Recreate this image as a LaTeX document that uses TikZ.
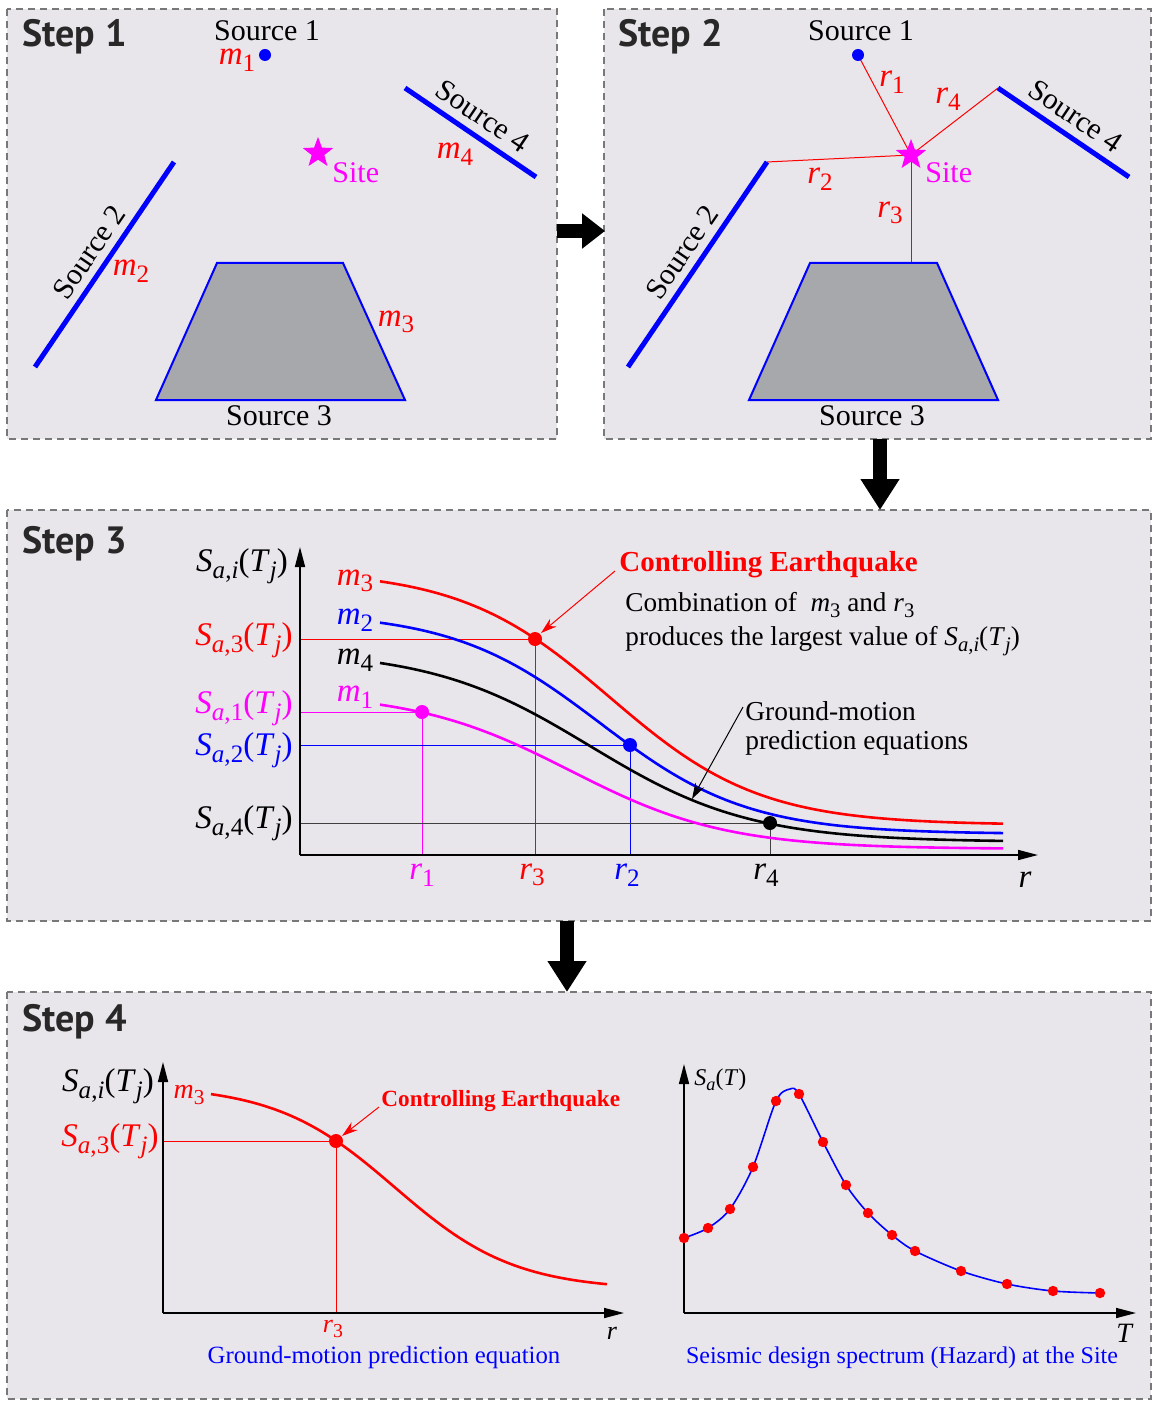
\documentclass[tikz,border=0pt]{standalone}
\usepackage{fontspec}
\setmainfont{Liberation Serif}
\newfontfamily\stepfont{PT Sans}
\usetikzlibrary{shapes.geometric,arrows.meta}
\definecolor{panelbg}{RGB}{232,230,235}
\definecolor{trapfill}{RGB}{167,168,171}
\definecolor{bordergray}{RGB}{120,120,120}
\definecolor{stepgray}{RGB}{40,40,40}
\definecolor{mred}{RGB}{255,0,0}
\definecolor{mblue}{RGB}{0,0,255}
\definecolor{mmag}{RGB}{255,0,255}
\newcommand\myfs[1]{\fontsize{#1}{#1}\selectfont}
\newcommand\mysub[1]{\raisebox{-0.2em}{\scalebox{0.76}{#1}}}
\newcommand\vm[1]{\textit{m}\mysub{#1}}
\newcommand\vr[1]{\textit{r}\mysub{#1}}
\newcommand\vS[1]{\textit{S}\mysub{\textit{a},#1}(\textit{T}\mysub{\textit{j}})}
\begin{document}
\begin{tikzpicture}[x=0.5pt,y=-0.5pt,
  panel/.style={draw=bordergray, fill=panelbg, line width=0.6pt, dash pattern=on 3.5pt off 2.5pt},
  steplabel/.style={font=\stepfont\bfseries\myfs{19}, text=stepgray, anchor=west, inner sep=0},
  txt/.style={font=\myfs{15}, inner sep=0},
  mlab/.style={font=\myfs{16.5}, inner sep=0},
  clab/.style={font=\myfs{16.5}, inner sep=0},
  srcline/.style={mblue, line width=2.5pt},
  trap/.style={draw=mblue, fill=trapfill, line width=1pt},
  sitestar/.style={star, star points=5, star point ratio=2.4, fill=mmag, minimum size=16pt, inner sep=0},
  rightarrow/.style={line width=7pt, -{Triangle[length=11.5pt,width=17pt]}},
  downarrow/.style={line width=7pt, -{Triangle[length=15.5pt,width=18.5pt]}},
  axis/.style={line width=0.8pt, -{Triangle[length=10pt,width=5pt]}},
  gmpe/.style={line width=1.3pt},
  thinl/.style={line width=0.5pt},
  rline/.style={mred, line width=0.5pt},
  leader/.style={line width=0.5pt, -{Stealth[length=8pt,width=5pt]}},
]
\useasboundingbox (0,0) rectangle (1153,1401);

% ---------- panels ----------
\draw[panel] (7,9) rectangle (557,439);
\draw[panel] (604,9) rectangle (1151,439);
\draw[panel] (7,510) rectangle (1151,921);
\draw[panel] (7,992) rectangle (1151,1399);

% ---------- big arrows ----------
\coordinate (a1s) at (557,231); \coordinate (a1e) at (605,231);
\draw[rightarrow] (a1s) -- (a1e);
\coordinate (a2s) at (880,439); \coordinate (a2e) at (880,510);
\draw[downarrow] (a2s) -- (a2e);
\coordinate (a3s) at (567,921); \coordinate (a3e) at (567,992);
\draw[downarrow] (a3s) -- (a3e);

% ---------- Step 1 ----------
\node[steplabel] (st1) at (22,37) {Step 1};
\node[txt] (s1a) at (267,31) {Source 1};
\fill[mblue] (265,55) circle (3pt) coordinate (src1a);
\node[mlab, mred] (m1a) at (237,60) {\vm{1}};
\coordinate (s4a1) at (405,88); \coordinate (s4a2) at (536,177);
\draw[srcline] (s4a1) -- (s4a2);
\node[txt, rotate=-34] (s4la) at (483,116) {Source 4};
\node[mlab, mred] (m4a) at (455,154) {\vm{4}};
\coordinate (s2a1) at (35,367); \coordinate (s2a2) at (174,162);
\draw[srcline] (s2a1) -- (s2a2);
\node[txt, rotate=55.7] (s2la) at (89,252) {Source 2};
\node[mlab, mred] (m2a) at (131,271) {\vm{2}};
\draw[trap] (217,263) -- (343,263) -- (405,400) -- (156,400) -- cycle;
\node[txt] (s3la) at (279,416) {Source 3};
\node[mlab, mred] (m3a) at (396,322) {\vm{3}};
\node[sitestar] (sitea) at (318,153) {};
\node[txt, mmag, anchor=west] (sitela) at (332,173) {Site};

% ---------- Step 2 ----------
\node[steplabel] (st2) at (618,37) {Step 2};
\node[txt] (s1b) at (861,31) {Source 1};
\coordinate (src1b) at (858,55);
\coordinate (s4b1) at (998,88); \coordinate (s4b2) at (1129,177);
\coordinate (s2b1) at (628,367); \coordinate (s2b2) at (767,162);
\coordinate (trb) at (911,263);
\coordinate (siteb) at (911,155);
\draw[rline] (src1b) -- (siteb);
\draw[rline] (s2b2) -- (siteb);
\draw[rline] (s4b1) -- (siteb);
\draw[rline] (trb) -- (siteb);
\fill[mblue] (src1b) circle (3pt);
\draw[srcline] (s4b1) -- (s4b2);
\node[txt, rotate=-34] (s4lb) at (1076,116) {Source 4};
\draw[srcline] (s2b1) -- (s2b2);
\node[txt, rotate=55.7] (s2lb) at (682,252) {Source 2};
\draw[trap] (810,263) -- (937,263) -- (998,400) -- (749,400) -- cycle;
\node[txt] (s3lb) at (872,416) {Source 3};
\node[sitestar] (sitestarb) at (siteb) {};
\node[txt, mmag, anchor=west] (sitelb) at (925,173) {Site};
\node[mlab, mred] (r1b) at (892,82) {\vr{1}};
\node[mlab, mred] (r4b) at (948,99) {\vr{4}};
\node[mlab, mred] (r2b) at (820,179) {\vr{2}};
\node[mlab, mred] (r3b) at (890,213) {\vr{3}};

% ---------- Step 3 ----------
\node[steplabel] (st3) at (22,544) {Step 3};
\coordinate (o3) at (300,855);
\coordinate (y3) at (300,547);
\coordinate (x3) at (1038,855);
% reference lines
\coordinate (d3) at (535,639); \coordinate (d1) at (422,712);
\coordinate (d2) at (630,745); \coordinate (d4) at (770,823);
\draw[thinl, mred] (300,639) -- (d3) -- (535,855);
\draw[thinl, mmag] (300,712) -- (d1) -- (422,855);
\draw[thinl, mblue] (300,745) -- (d2) -- (630,855);
\draw[thinl, black!75] (300,823) -- (d4) -- (770,855);
% curves (logistic fits)
\draw[gmpe, mred] plot[domain=380:1003, samples=120] (\x, {570+255/(1+exp(-(\x-610)/75))});
\draw[gmpe, mblue] plot[domain=380:1003, samples=120] (\x, {612+222/(1+exp(-(\x-600)/73.7))});
\draw[gmpe, black] plot[domain=380:1003, samples=120] (\x, {650+192/(1+exp(-(\x-590)/80))});
\draw[gmpe, mmag] plot[domain=380:1003, samples=120] (\x, {692+157/(1+exp(-(\x-570)/78))});
\draw[axis] (o3) -- (y3);
\draw[axis] (o3) -- (x3);
\fill[mred] (d3) circle (3.5pt);
\fill[mmag] (d1) circle (3.5pt);
\fill[mblue] (d2) circle (3.5pt);
\fill[black] (d4) circle (3.5pt);
% labels
\node[clab] (say3) at (242,566) {\vS{\textit{i}}};
\node[clab, mred] (sa3) at (244,640) {\vS{3}};
\node[clab, mmag] (sa1) at (244,708) {\vS{1}};
\node[clab, mblue] (sa2) at (244,750) {\vS{2}};
\node[clab] (sa4) at (244,823) {\vS{4}};
\node[mlab, mred] (m3c) at (355,581) {\vm{3}};
\node[mlab, mblue] (m2c) at (355,620) {\vm{2}};
\node[mlab] (m4c) at (355,660) {\vm{4}};
\node[mlab, mmag] (m1c) at (355,697) {\vm{1}};
\node[mlab, mmag] (r1c) at (422,875) {\vr{1}};
\node[mlab, mred] (r3c) at (532,875) {\vr{3}};
\node[mlab, mblue] (r2c) at (627,875) {\vr{2}};
\node[mlab] (r4c) at (766,875) {\vr{4}};
\node[mlab] (rc) at (1025,880) {\textit{r}};
\node[font=\bfseries\myfs{14.5}, mred, anchor=west, inner sep=0] (ce3) at (619,565) {Controlling Earthquake};
\coordinate (ce3s) at (615,571);
\draw[leader, mred] (ce3s) -- (541,633);
\node[font=\myfs{13.6}, anchor=west, inner sep=0] (comb) at (625,605) {Combination of~ \vm{3} and \vr{3}};
\node[font=\myfs{13.6}, anchor=west, inner sep=0] (prod) at (625,641) {produces the largest value of \vS{\textit{i}}};
\node[font=\myfs{13.7}, anchor=west, inner sep=0] (gm1) at (745,711) {Ground-motion};
\node[font=\myfs{13.7}, anchor=west, inner sep=0] (gm2) at (745,743) {prediction equations};
\coordinate (gms) at (743,707); \coordinate (gme) at (692,799);
\draw[leader, black] (gms) -- (gme);

% ---------- Step 4 ----------
\node[steplabel] (st4) at (22,1022) {Step 4};
% left chart
\coordinate (o4) at (163,1313);
\coordinate (y4) at (163,1062);
\coordinate (x4) at (624,1313);
\coordinate (d4c) at (336,1141);
\draw[thinl, mred] (163,1141) -- (d4c) -- (336,1313);
\draw[gmpe, mred] plot[domain=211:607, samples=100] (\x, {1085+205/(1+exp(-(\x-395)/60))});
\draw[axis] (o4) -- (y4);
\draw[axis] (o4) -- (x4);
\fill[mred] (d4c) circle (3.5pt);
\node[clab] (say4) at (108,1086) {\vS{\textit{i}}};
\node[clab, mred] (sa34) at (110,1141) {\vS{3}};
\node[font=\myfs{14}, mred, inner sep=0] (m3d) at (189,1095) {\vm{3}};
\node[font=\bfseries\myfs{11.6}, mred, anchor=west, inner sep=0] (ce4) at (381,1101) {Controlling Earthquake};
\coordinate (ce4s) at (379,1107);
\draw[leader, mred] (ce4s) -- (342,1136);
\node[font=\myfs{13}, mred, inner sep=0] (r3d) at (333,1329) {\vr{3}};
\node[font=\myfs{13}, inner sep=0] (rd) at (612,1333) {\textit{r}};
\node[font=\myfs{12.4}, mblue, inner sep=0] (cap1) at (384,1358) {Ground-motion prediction equation};
% right chart
\coordinate (o5) at (684,1313);
\coordinate (y5) at (684,1064);
\coordinate (x5) at (1136,1313);
\draw[line width=0.8pt, mblue] plot[smooth, tension=0.5] coordinates {(684,1238) (708,1228) (730,1209) (753,1167) (776,1101) (790,1089) (799,1094) (823,1142) (846,1185) (868,1213) (892,1235) (915,1251) (961,1271) (1007,1284) (1053,1291) (1100,1293)};
\draw[axis] (o5) -- (y5);
\draw[axis] (o5) -- (x5);
\foreach \p in {(684,1238),(708,1228),(730,1209),(753,1167),(776,1101),(799,1094),(823,1142),(846,1185),(868,1213),(892,1235),(915,1251),(961,1271),(1007,1284),(1053,1291),(1100,1293)}
  \fill[mred] \p circle (2.6pt);
\node[font=\myfs{12}, anchor=west, inner sep=0] (sat) at (694,1080) {\textit{S}\mysub{\textit{a}}(\textit{T})};
\node[font=\myfs{14}, inner sep=0] (td) at (1125,1333) {\textit{T}};
\node[font=\myfs{12}, mblue, inner sep=0] (cap2) at (902,1358) {Seismic design spectrum (Hazard) at the Site};
\end{tikzpicture}
\end{document}
